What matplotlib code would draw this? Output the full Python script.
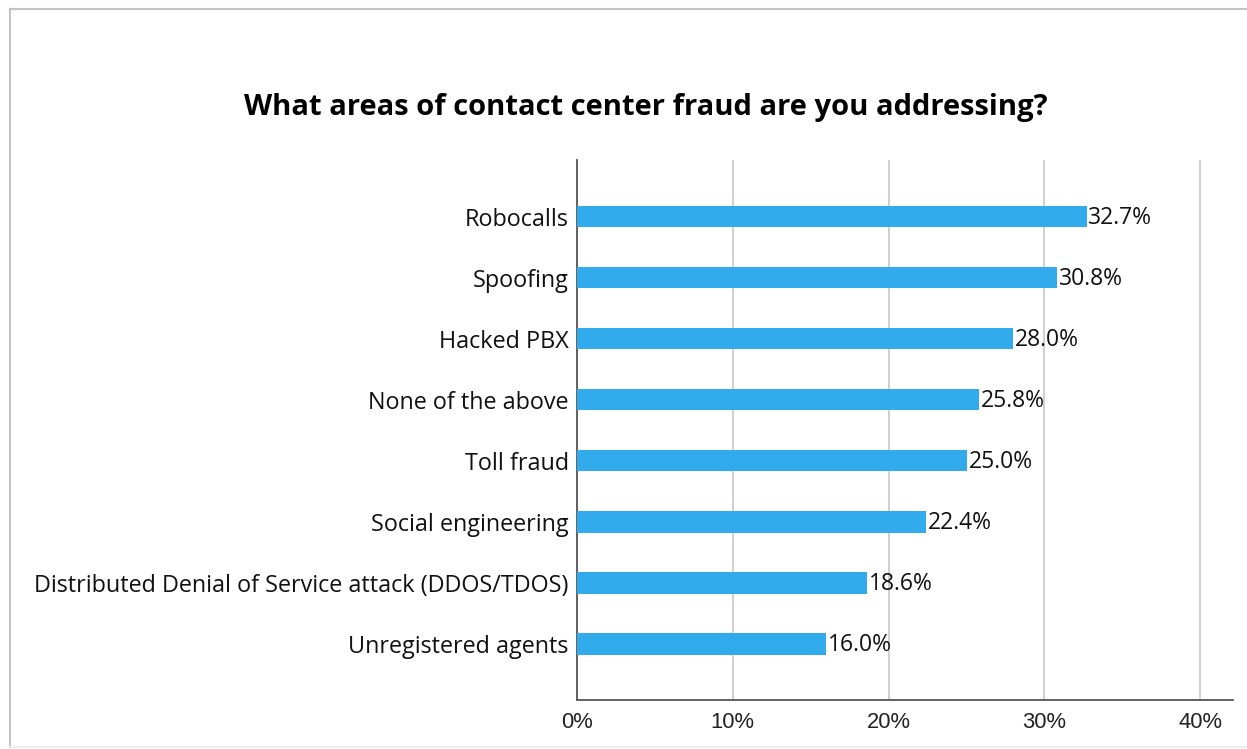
import matplotlib.pyplot as plt
from matplotlib.lines import Line2D

categories = ['Robocalls', 'Spoofing', 'Hacked PBX', 'None of the above',
              'Toll fraud', 'Social engineering',
              'Distributed Denial of Service attack (DDOS/TDOS)',
              'Unregistered agents']
values = [32.7, 30.8, 28.0, 25.8, 25.0, 22.4, 18.6, 16.0]
xticks = [0, 10, 20, 30, 40]

fig = plt.figure(figsize=(12.47, 7.49), dpi=100)
ax = fig.add_axes([577 / 1247, 49 / 749, 656 / 1247, 540 / 749])

pos = list(range(len(categories)))
ax.barh(pos, values, height=0.35, color='#31abeb', zorder=3)
for p, v in zip(pos, values):
    ax.text(v + 0.12, p + 0.02, f'{v:.1f}%', va='center', ha='left',
            fontsize=16.5, family='Open Sans', color='#111111')

ax.set_ylim(len(categories) - 1 + 0.92, -0.93)
ax.set_xlim(0, 42.1)
ax.set_yticks(pos)
ax.set_yticklabels(categories, family='Open Sans', fontsize=16.8, color='#111111')
ax.set_xticks(xticks)
ax.set_xticklabels([f'{t}%' for t in xticks], family='Liberation Sans',
                   fontsize=15.8, color='#222222')
ax.tick_params(axis='both', length=0)
ax.tick_params(axis='y', pad=6)
ax.tick_params(axis='x', pad=9)
ax.grid(axis='x', color='#c8c8c8', linewidth=1.2, zorder=0)
for s in ['top', 'right']:
    ax.spines[s].set_visible(False)
for s in ['left', 'bottom']:
    ax.spines[s].set_color('#555555')
    ax.spines[s].set_linewidth(1.3)

fig.text(646 / 1247, 1 - 107 / 749, 'What areas of contact center fraud are you addressing?',
         ha='center', va='center', fontsize=21, fontweight='bold',
         family='Open Sans', color='black')

# light frame around the chart
frame_kw = dict(color='#c4c4c4', linewidth=1.5, transform=fig.transFigure)
fig.add_artist(Line2D([10 / 1247, 10 / 1247], [1 - 9 / 749, 1 - 747 / 749], **frame_kw))
fig.add_artist(Line2D([10 / 1247, 1], [1 - 9 / 749, 1 - 9 / 749], **frame_kw))
fig.add_artist(Line2D([10 / 1247, 1], [1 - 747 / 749, 1 - 747 / 749],
                      color='#ececec', linewidth=1.2, transform=fig.transFigure))

fig.savefig('out.png', dpi=100)
